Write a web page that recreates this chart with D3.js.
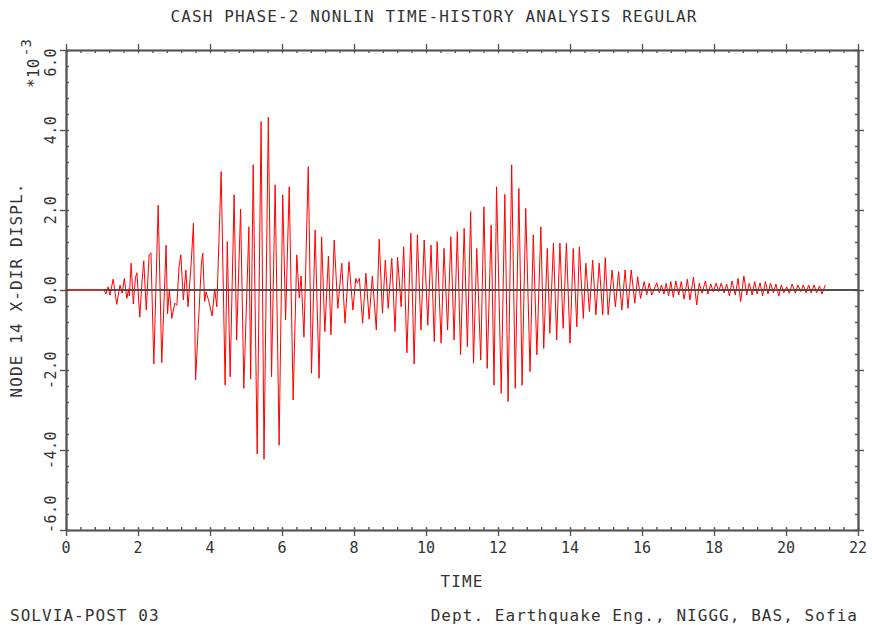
<!DOCTYPE html>
<html>
<head>
<meta charset="utf-8">
<script src="https://cdn.jsdelivr.net/npm/d3@7/dist/d3.min.js"></script>
<style>
  html, body { margin: 0; padding: 0; background: #fff; }
  svg text { font-family: "DejaVu Sans Mono", "Liberation Mono", monospace; fill: #333; }
</style>
</head>
<body>
<svg id="chart" width="872" height="625"></svg>
<script>
// Time (s) of each turning point of the response history
const times = [
  0, 1.06, 1.11, 1.17, 1.22, 1.31, 1.41, 1.50, 1.56, 1.62, 1.69, 1.74, 1.76, 1.81, 1.87, 1.93, 1.97,
  2.05, 2.11, 2.16, 2.23, 2.31, 2.36, 2.44, 2.56, 2.66, 2.78, 2.82, 2.87, 2.94, 3.02, 3.08, 3.14,
  3.19, 3.26, 3.33, 3.39, 3.48, 3.54, 3.60, 3.76, 3.80, 3.85, 3.89, 3.96, 4.06, 4.13, 4.19, 4.31,
  4.42, 4.48, 4.56, 4.67, 4.74, 4.85, 4.94, 5.08, 5.13, 5.20, 5.31, 5.42, 5.50, 5.62, 5.71, 5.81,
  5.92, 6.02, 6.10, 6.20, 6.31, 6.41, 6.48, 6.53, 6.61, 6.73, 6.82, 6.92, 7.03, 7.10, 7.19, 7.29,
  7.36, 7.45, 7.55, 7.66, 7.75, 7.86, 7.97, 8.05, 8.09, 8.15, 8.24, 8.33, 8.42, 8.51, 8.62, 8.70,
  8.79, 8.87, 8.95, 9.05, 9.14, 9.21, 9.31, 9.38, 9.47, 9.58, 9.67, 9.76, 9.86, 9.95, 10.05, 10.14,
  10.23, 10.31, 10.42, 10.50, 10.60, 10.69, 10.78, 10.87, 10.96, 11.06, 11.15, 11.24, 11.32, 11.41,
  11.52, 11.61, 11.70, 11.81, 11.89, 11.96, 12.09, 12.19, 12.28, 12.38, 12.48, 12.58, 12.67, 12.77,
  12.89, 12.98, 13.08, 13.19, 13.27, 13.37, 13.44, 13.54, 13.63, 13.72, 13.81, 13.90, 14.00, 14.09,
  14.19, 14.26, 14.37, 14.44, 14.54, 14.63, 14.72, 14.81, 14.91, 14.98, 15.06, 15.17, 15.26, 15.35,
  15.44, 15.53, 15.61, 15.70, 15.80, 15.88, 15.96, 16.06, 16.13, 16.20, 16.27, 16.41, 16.48, 16.54,
  16.61, 16.67, 16.74, 16.80, 16.87, 16.94, 17.02, 17.09, 17.17, 17.26, 17.33, 17.43, 17.52, 17.59,
  17.67, 17.76, 17.83, 17.91, 17.98, 18.06, 18.13, 18.20, 18.28, 18.35, 18.43, 18.50, 18.59, 18.67,
  18.74, 18.83, 18.91, 18.98, 19.06, 19.13, 19.20, 19.28, 19.35, 19.43, 19.50, 19.57, 19.65, 19.72,
  19.80, 19.87, 19.94, 20.02, 20.09, 20.17, 20.26, 20.33, 20.41, 20.48, 20.56, 20.63, 20.70, 20.78,
  20.85, 20.93, 21.00, 21.09
];

// Node 14 X-direction displacement at those times (units of 1e-3)
const displ = [
  0, 0, -0.10, 0.08, -0.13, 0.27, -0.36, 0.12, -0.08, 0.29, -0.21, 0.03, -0.15, 0.67, -0.35, 0.32, 0.43,
  -0.68, 0.20, 0.73, -0.50, 0.88, 0.93, -1.85, 2.12, -1.82, 1.12, -0.60, 0.00, -0.71, -0.33, -0.38, 0.58,
  0.88, -0.25, 0.50, -0.42, 0.71, 1.67, -2.25, 0.65, 0.92, -0.29, -0.05, -0.25, -0.65, 0.03, -0.42, 2.96,
  -2.38, 1.21, -2.17, 2.38, -1.25, 2.02, -2.46, 1.58, -2.23, 3.13, -4.10, 4.21, -4.23, 4.32, -2.17, 2.63,
  -3.88, 2.38, -0.75, 2.58, -2.75, 0.88, -0.20, 0.35, -1.18, 3.08, -2.08, 1.50, -2.21, 1.33, -1.04, 0.85,
  -1.12, 1.25, -0.46, 0.67, -0.83, 0.71, -0.50, 0.29, 0.18, 0.29, -0.83, 0.42, -0.73, 0.35, -1.00, 1.27,
  -0.58, 0.75, -0.46, 0.79, -1.04, 0.82, -0.42, 1.08, -1.57, 1.42, -1.85, 1.38, -1.00, 1.25, -0.88, 1.12,
  -1.29, 1.21, -1.33, 1.04, -1.00, 1.33, -1.25, 1.46, -1.62, 1.54, -1.42, 1.96, -1.83, 1.04,
  -1.75, 2.08, -1.96, 1.62, -2.38, 2.58, -2.58, 2.39, -2.79, 3.13, -2.46, 2.54, -2.38, 2.04,
  -2.04, 1.38, -1.62, 1.58, -1.46, 1.04, -1.08, 1.17, -1.25, 1.17, -0.96, 1.17, -1.33, 1.04,
  -0.92, 1.08, -0.71, 0.67, -0.54, 0.75, -0.62, 0.67, -0.62, 0.81, -0.62, 0.50, -0.42, 0.46,
  -0.50, 0.50, -0.46, 0.50, -0.33, 0.33, -0.21, 0.21, -0.12, 0.17, -0.125, 0.18, -0.07, 0.125,
  -0.10, 0.17, -0.15, 0.21, -0.18, 0.225, -0.125, 0.21, -0.23, 0.27, -0.25, 0.32, -0.375, 0.17,
  -0.08, 0.225, -0.10, 0.15, -0.04, 0.17, -0.04, 0.17, -0.07, 0.15, -0.15, 0.225, -0.125, 0.29,
  -0.29, 0.35, -0.125, 0.17, -0.125, 0.21, -0.10, 0.18, -0.15, 0.21, -0.10, 0.17, -0.07, 0.15,
  -0.15, 0.125, -0.07, 0.08, -0.08, 0.15, -0.08, 0.125, -0.04, 0.125, -0.07, 0.125, -0.08, 0.125,
  -0.07, 0.10, -0.10, 0.125
];

const xTickValues = [0, 2, 4, 6, 8, 10, 12, 14, 16, 18, 20, 22];
const xTickLabels = ["0", "2", "4", "6", "8", "10", "12", "14", "16", "18", "20", "22"];
const yTickValues = [-6, -4, -2, 0, 2, 4, 6];
const yTickLabels = ["-6.0", "-4.0", "-2.0", "0.0", "2.0", "4.0", "6.0"];
const minorStep = 0.4;

const titleText = "CASH PHASE-2 NONLIN TIME-HISTORY ANALYSIS REGULAR";
const xTitle = "TIME";
const yTitle = "NODE 14 X-DIR DISPL.";
const footLeft = "SOLVIA-POST 03";
const footRight = "Dept. Earthquake Eng., NIGGG, BAS, Sofia";

const svg = d3.select("#chart");
const L = 66, R = 858, T = 50, B = 530;
const x = d3.scaleLinear().domain([0, 22]).range([L, R]);
const y = d3.scaleLinear().domain([-6, 6]).range([B, T]);

const axisColor = "#555";
const textStyle = s => s.attr("font-size", 16).attr("letter-spacing", 1.12);

const xMinor = d3.range(0, 22 + 1e-6, minorStep).filter(v => Math.abs(v / 2 - Math.round(v / 2)) > 1e-6);
const yMinor = d3.range(-6, 6 + 1e-6, minorStep).filter(v => Math.abs(v / 2 - Math.round(v / 2)) > 1e-6);

function styleAxis(g) {
  g.selectAll("path.domain").attr("stroke", axisColor).attr("stroke-width", 1.6);
  g.selectAll(".tick line").attr("stroke", axisColor).attr("stroke-width", 1.4);
  g.selectAll(".tick text").remove();
}

// Frame: each side gets outward major ticks, inward minor ticks, and a short inward stub on majors
function side(axisFn, scale, translate, major, minor) {
  svg.append("g").attr("transform", translate)
    .call(axisFn(scale).tickValues(minor).tickSizeInner(-3).tickSizeOuter(0).tickFormat(""))
    .call(styleAxis);
  svg.append("g").attr("transform", translate)
    .call(axisFn(scale).tickValues(major).tickSizeInner(-3).tickSizeOuter(0).tickFormat(""))
    .call(styleAxis);
  svg.append("g").attr("transform", translate)
    .call(axisFn(scale).tickValues(major).tickSizeInner(6).tickSizeOuter(0).tickFormat(""))
    .call(styleAxis);
}
side(d3.axisBottom, x, `translate(0,${B})`, xTickValues, xMinor);
side(d3.axisTop, x, `translate(0,${T})`, xTickValues, xMinor);
side(d3.axisLeft, y, `translate(${L},0)`, yTickValues, yMinor);
side(d3.axisRight, y, `translate(${R},0)`, yTickValues, yMinor);

// X tick labels
svg.append("g").selectAll("text")
  .data(xTickValues)
  .join("text")
  .attr("x", d => x(d))
  .attr("y", B + 23)
  .attr("text-anchor", "middle")
  .call(textStyle)
  .attr("font-size", 15)
  .attr("letter-spacing", 0)
  .text((d, i) => xTickLabels[i]);

// Y tick labels, rotated; the end labels are kept inside the frame
svg.append("g").selectAll("text")
  .data(yTickValues)
  .join("text")
  .attr("transform", d => {
    let py = y(d);
    if (d === 6) py = T - 2;
    if (d === -6) py = B + 3;
    return `translate(56,${py}) rotate(-90)`;
  })
  .attr("text-anchor", d => d === 6 ? "end" : d === -6 ? "start" : "middle")
  .call(textStyle)
  .attr("font-size", 15)
  .attr("letter-spacing", 0.5)
  .text((d, i) => yTickLabels[i]);

// Scale factor note
const sf = svg.append("text")
  .attr("transform", `translate(39,88) rotate(-90)`)
  .call(textStyle)
  .attr("font-size", 16)
  .attr("letter-spacing", 0.3);
sf.append("tspan").text("*10");
sf.append("tspan").attr("dx", 2).attr("dy", -8).attr("font-size", 14).text("-3");

// Titles
svg.append("text")
  .attr("x", 434).attr("y", 22)
  .attr("text-anchor", "middle")
  .call(textStyle)
  .text(titleText);

svg.append("text")
  .attr("x", (L + R) / 2).attr("y", B + 57)
  .attr("text-anchor", "middle")
  .call(textStyle)
  .text(xTitle);

svg.append("text")
  .attr("transform", `translate(22,${y(0)}) rotate(-90)`)
  .attr("text-anchor", "middle")
  .call(textStyle)
  .text(yTitle);

svg.append("text")
  .attr("x", 10).attr("y", 621)
  .call(textStyle)
  .attr("letter-spacing", 1.05)
  .text(footLeft);

svg.append("text")
  .attr("x", R).attr("y", 621)
  .attr("text-anchor", "end")
  .call(textStyle)
  .attr("letter-spacing", 1.05)
  .text(footRight);

// Response history
const series = times.map((t, i) => [t, displ[i]]);
const line = d3.line().x(d => x(d[0])).y(d => y(d[1]));

svg.append("line")
  .attr("x1", L).attr("x2", R)
  .attr("y1", y(0)).attr("y2", y(0))
  .attr("stroke", "#444").attr("stroke-width", 1.6);

svg.append("path")
  .datum(series)
  .attr("fill", "none")
  .attr("stroke", "#ff0000")
  .attr("stroke-width", 1)
  .attr("d", line);

// Zero reference drawn over the oscillating part of the record
svg.append("line")
  .attr("x1", x(times[1])).attr("x2", R)
  .attr("y1", y(0)).attr("y2", y(0))
  .attr("stroke", "#444").attr("stroke-width", 1.6);
</script>
</body>
</html>
